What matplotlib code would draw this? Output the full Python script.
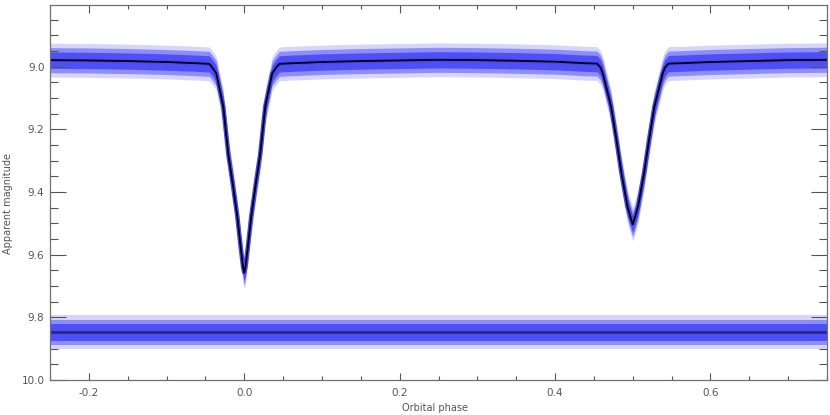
import matplotlib
matplotlib.use('Agg')
import matplotlib.pyplot as plt
from matplotlib.ticker import MultipleLocator, FormatStrFormatter

# model light curve (phase, apparent magnitude)
phase = [-0.25, -0.20, -0.15, -0.10, -0.06,
         -0.045, -0.041, -0.036, -0.027, -0.0205,
         -0.015, -0.009, -0.0043, -0.0015, 0.0,
         0.0015, 0.0043, 0.009, 0.015, 0.0205,
         0.027, 0.036, 0.041, 0.045, 0.06,
         0.10, 0.15, 0.20, 0.25, 0.30,
         0.35, 0.40, 0.44, 0.454, 0.4584,
         0.4614, 0.4721, 0.479, 0.4854, 0.4931,
         0.497, 0.50, 0.503, 0.5069, 0.5146,
         0.521, 0.5279, 0.5386, 0.5416, 0.546,
         0.56, 0.60, 0.65, 0.70, 0.75]
model_mag = [8.979, 8.980, 8.982, 8.985, 8.989,
             8.991, 9.003, 9.021, 9.127, 9.280,
             9.371, 9.477, 9.583, 9.640, 9.657,
             9.640, 9.583, 9.477, 9.371, 9.280,
             9.127, 9.021, 9.003, 8.991, 8.989,
             8.985, 8.982, 8.980, 8.978, 8.979,
             8.981, 8.984, 8.989, 8.990, 9.002,
             9.021, 9.127, 9.233, 9.339, 9.445,
             9.480, 9.503, 9.480, 9.445, 9.339,
             9.233, 9.127, 9.021, 9.002, 8.990,
             8.989, 8.985, 8.982, 8.979, 8.978]

# residuals (offset), drawn as a flat line at this level
resid_phase = [-0.25, 0.75]
resid_mag = [9.848, 9.848]

# spread of the observed points around the curves (mag)
spread_core = 0.026
spread_mid = 0.040
spread_outer = 0.054

dot_color = '#4848f8'
grey = '#555555'

fig = plt.figure(figsize=(8.3, 4.15), dpi=100)
ax = fig.add_axes([50/830, 35/415, 777/830, 375/415])


def band(x, y):
    lo = [v - spread_outer for v in y]
    hi = [v + spread_outer for v in y]
    ax.fill_between(x, lo, hi, color=dot_color, alpha=0.22, lw=0)
    lo = [v - spread_mid for v in y]
    hi = [v + spread_mid for v in y]
    ax.fill_between(x, lo, hi, color=dot_color, alpha=0.5, lw=0)
    lo = [v - spread_core for v in y]
    hi = [v + spread_core for v in y]
    ax.fill_between(x, lo, hi, color=dot_color, alpha=0.9, lw=0)
    ax.plot(x, y, color=dot_color, lw=3.2, solid_joinstyle='round')


band(phase, model_mag)
band(resid_phase, resid_mag)

ax.plot(phase, model_mag, color='black', lw=1.3)
ax.plot(resid_phase, resid_mag, color='#262680', lw=1.8)

ax.set_xlim(-0.25, 0.75)
ax.set_ylim(10.0, 8.803)

ax.xaxis.set_major_locator(MultipleLocator(0.2))
ax.xaxis.set_minor_locator(MultipleLocator(0.05))
ax.yaxis.set_major_locator(MultipleLocator(0.2))
ax.yaxis.set_minor_locator(MultipleLocator(0.05))
ax.xaxis.set_major_formatter(FormatStrFormatter('%.1f'))
ax.yaxis.set_major_formatter(FormatStrFormatter('%.1f'))

ax.tick_params(axis='x', which='both', direction='in', top=True, bottom=True,
               color=grey, labelcolor=grey, labelsize=7.5, pad=6)
ax.tick_params(axis='x', which='major', length=7.5 * 0.72, width=0.8)
ax.tick_params(axis='x', which='minor', length=3.8 * 0.72, width=0.8)
ax.tick_params(axis='y', which='both', direction='in', left=True, right=True,
               color=grey, labelcolor=grey, labelsize=7.5, pad=4)
ax.tick_params(axis='y', which='major', length=16 * 0.72, width=0.8)
ax.tick_params(axis='y', which='minor', length=8 * 0.72, width=0.8)

for s in ax.spines.values():
    s.set_color('#707070')
    s.set_linewidth(0.9)

ax.set_xlabel('Orbital phase', fontsize=7, color=grey)
ax.set_ylabel('Apparent magnitude', fontsize=7, color=grey)
ax.xaxis.set_label_coords(0.495, -0.062)
ax.yaxis.set_label_coords(-0.047, 0.47)

fig.savefig('out.png', dpi=100)
